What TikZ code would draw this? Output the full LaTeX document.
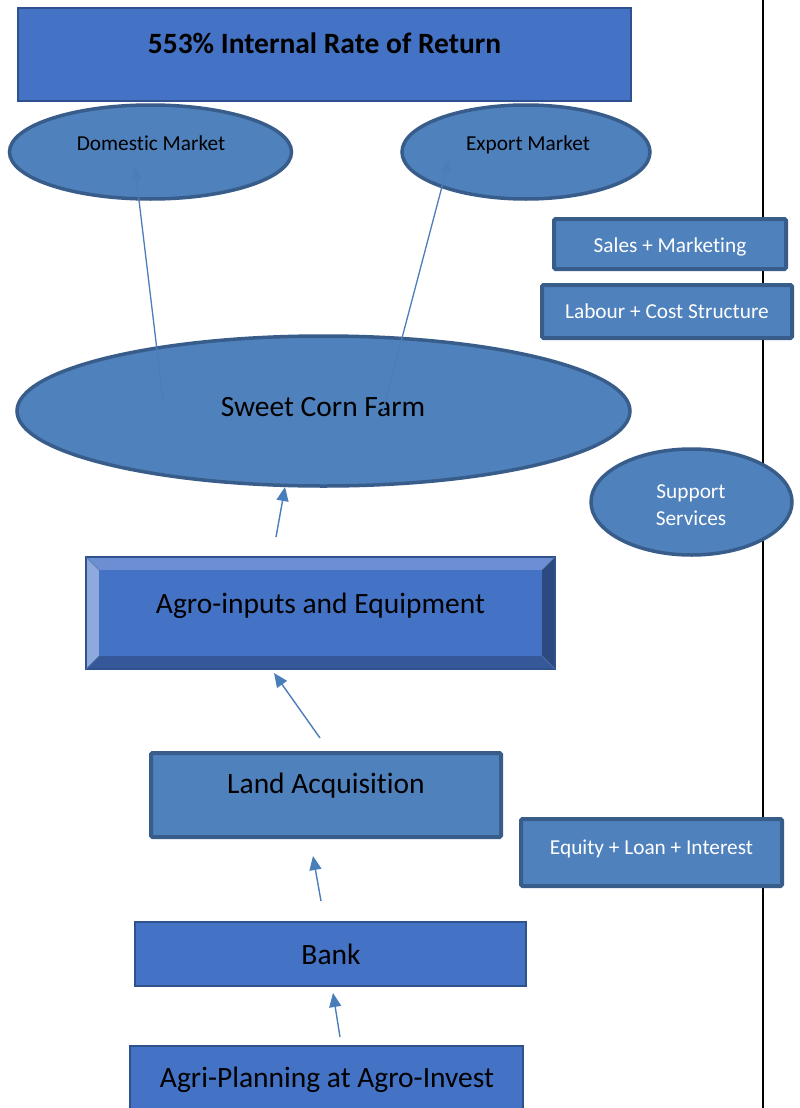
\documentclass[tikz,border=0pt]{standalone}
\usepackage{fontspec}
\setmainfont{Carlito}[Ligatures={NoCommon}]
\usetikzlibrary{shapes.geometric,arrows.meta}
\definecolor{darkfill}{HTML}{4472C4}
\definecolor{darkedge}{HTML}{2F528F}
\definecolor{lightfill}{HTML}{4F81BD}
\definecolor{lightedge}{HTML}{385D8A}
\definecolor{arrowcol}{HTML}{4A7EBB}
\definecolor{bevtop}{HTML}{6B8FD2}
\definecolor{bevleft}{HTML}{8EA9DB}
\definecolor{bevright}{HTML}{2C4A80}
\definecolor{bevbot}{HTML}{35589A}
\tikzset{
  plainbox/.style={rectangle, fill=darkfill, draw=darkedge, line width=1.2pt, inner sep=0pt},
  thickbox/.style={rectangle, fill=lightfill, draw=lightedge, line width=4pt, rounded corners=1.5pt, inner sep=0pt},
  oval/.style={ellipse, fill=lightfill, draw=lightedge, line width=3.5pt, inner sep=0pt},
  bigtext/.style={font=\fontsize{29.5}{34}\selectfont, text=black, inner sep=0pt, text height=0.72em, text depth=0.2em},
  smalltext/.style={font=\fontsize{21.3}{26}\selectfont, inner sep=0pt, text height=0.72em, text depth=0.2em},
  flow/.style={draw=arrowcol, line width=1.4pt, -{Triangle[length=14pt,width=12pt]}},
  thinflow/.style={draw=arrowcol, line width=1.3pt, -{Triangle[length=12pt,width=10pt]}}
}
\begin{document}
\begin{tikzpicture}[x=1pt,y=-1pt]
\useasboundingbox (0,0) rectangle (800,1108);
\fill[white] (0,0) rectangle (800,1108);
% right rule
\coordinate (ruletop) at (763,0);
\coordinate (rulebot) at (763,1108);
\draw[black, line width=2pt] (ruletop) -- (rulebot);

% title
\node (title) [plainbox, minimum width=613pt, minimum height=93pt] at (324.5,54.5) {};
\node (titletext) [bigtext, font=\fontsize{29.5}{34}\selectfont\bfseries] at (324.5,51) {553\% Internal Rate of Return};

% markets
\node (domestic) [oval, minimum width=282pt, minimum height=94pt] at (150.5,152) {};
\node (domtext) [smalltext, text=black] at (151,148) {Domestic Market};
\node (export) [oval, minimum width=248pt, minimum height=94pt] at (526,152) {};
\node (exptext) [smalltext, text=black] at (528,148) {Export Market};

% right side boxes
\node (sales) [thickbox, minimum width=232pt, minimum height=50pt] at (670,244) {};
\node (salestext) [smalltext, text=white] at (670,250) {Sales + Marketing};
\node (labour) [thickbox, minimum width=250pt, minimum height=53pt] at (667,311.5) {};
\node (labourtext) [smalltext, text=white] at (667,316) {Labour + Cost Structure};

% sweet corn farm
\node (farm) [oval, minimum width=613pt, minimum height=150pt] at (323.5,411) {};
\node (farmtext) [bigtext] at (323,414) {Sweet Corn Farm};

% support services
\node (support) [oval, minimum width=201pt, minimum height=106pt] at (691.5,502) {};
\node (supporttext) [font=\fontsize{21.3}{27}\selectfont, inner sep=0pt, text=white, align=center] at (691,505) {Support\\Services};

% bevel box
\coordinate (bA) at (86,557);
\coordinate (bB) at (555,557);
\coordinate (bC) at (555,669);
\coordinate (bD) at (86,669);
\coordinate (iA) at (99,570);
\coordinate (iB) at (542,570);
\coordinate (iC) at (542,656);
\coordinate (iD) at (99,656);
\fill[bevtop] (bA) -- (bB) -- (iB) -- (iA) -- cycle;
\fill[bevleft] (bA) -- (iA) -- (iD) -- (bD) -- cycle;
\fill[bevright] (bB) -- (bC) -- (iC) -- (iB) -- cycle;
\fill[bevbot] (bD) -- (iD) -- (iC) -- (bC) -- cycle;
\node (agro) [rectangle, fill=darkfill, inner sep=0pt, minimum width=443pt, minimum height=86pt] at (320.5,613) {};
\draw[darkedge, line width=1.2pt] (bA) rectangle (bC);
\draw[darkedge!80, line width=0.6pt] (bA) -- (iA) (bB) -- (iB) (bC) -- (iC) (bD) -- (iD);
\node (agrotext) [bigtext] at (320.5,611) {Agro-inputs and Equipment};

% land acquisition
\node (land) [thickbox, minimum width=350pt, minimum height=84pt] at (326,795) {};
\node (landtext) [bigtext] at (326,791) {Land Acquisition};

% equity
\node (equity) [thickbox, minimum width=261pt, minimum height=67pt] at (651.5,852.5) {};
\node (equitytext) [smalltext, text=white] at (651.5,852) {Equity + Loan + Interest};

% bank
\node (bank) [plainbox, minimum width=391pt, minimum height=64pt] at (330.5,954) {};
\node (banktext) [bigtext] at (331,962) {Bank};

% agri-planning
\node (plan) [plainbox, minimum width=393pt, minimum height=70pt] at (326.5,1081) {};
\node (plantext) [bigtext] at (327,1085) {Agri-Planning at Agro-Invest};

% connectors
\coordinate (d1) at (163,400);
\coordinate (d2) at (135,167);
\coordinate (e1) at (383,410);
\coordinate (e2) at (449,160);
\coordinate (a1) at (276,537);
\coordinate (a2) at (285,487);
\coordinate (l1) at (320,738);
\coordinate (l2) at (274,673);
\coordinate (k1) at (321,901);
\coordinate (k2) at (313,856);
\coordinate (p1) at (340,1037);
\coordinate (p2) at (333,993);
\draw[thinflow] (d1) -- (d2);
\draw[thinflow] (e1) -- (e2);
\draw[flow] (a1) -- (a2);
\draw[flow] (l1) -- (l2);
\draw[flow] (k1) -- (k2);
\draw[flow] (p1) -- (p2);
\end{tikzpicture}
\end{document}
